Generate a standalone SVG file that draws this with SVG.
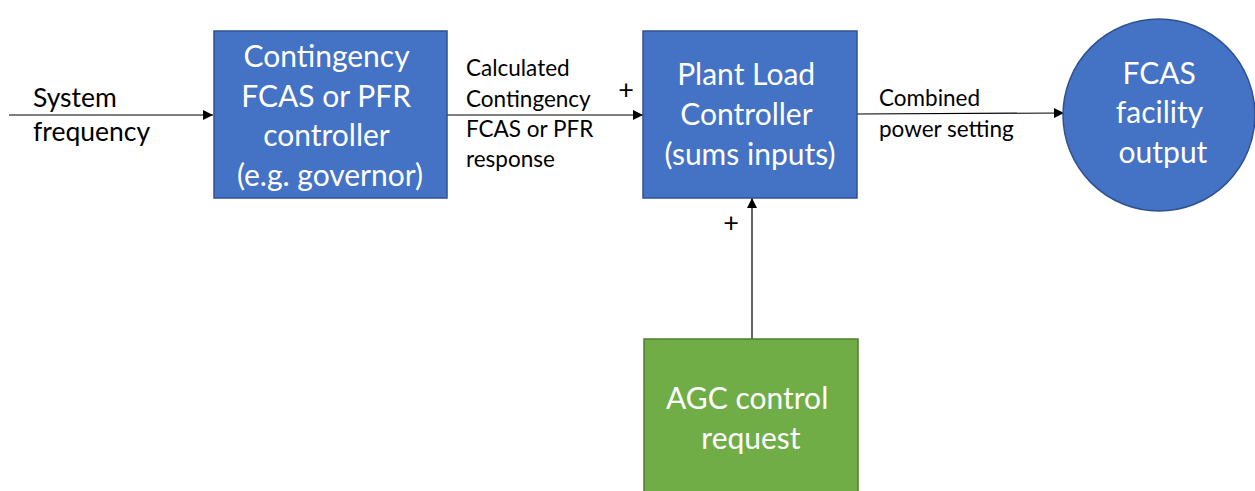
<svg xmlns="http://www.w3.org/2000/svg" width="1255" height="491" viewBox="0 0 1255 491">
  <style>
    .blue { fill: #4472C4; stroke: #2F528F; stroke-width: 1.5; }
    .green { fill: #70AD47; stroke: #507E32; stroke-width: 1.5; }
    .nodeText { font-family: "Lato", "Open Sans", "Liberation Sans", sans-serif; font-size: 30px; fill: #FFFFFF; text-anchor: middle; }
    .label { font-family: "Lato", "Open Sans", "Liberation Sans", sans-serif; fill: #000000; }
    .wire { stroke: #000000; stroke-width: 1.2; fill: none; marker-end: url(#arrow); }
  </style>
  <defs>
    <marker id="arrow" viewBox="0 0 10 10" refX="10" refY="5" markerWidth="10" markerHeight="10" markerUnits="userSpaceOnUse" orient="auto">
      <path d="M0,0 L10,5 L0,10 z" fill="#000000"/>
    </marker>
  </defs>

  <g id="connectors">
    <line class="wire" x1="9" y1="115" x2="213" y2="115"/>
    <line class="wire" x1="447" y1="115" x2="643" y2="115"/>
    <line class="wire" x1="857" y1="114" x2="1064" y2="113"/>
    <line class="wire" x1="752" y1="339" x2="752" y2="198"/>
  </g>

  <g id="node-contingency">
    <rect class="blue" x="214" y="31" width="233" height="167"/>
    <text class="nodeText">
      <tspan x="330" y="67">Contingency</tspan>
      <tspan x="330" y="107">FCAS or PFR</tspan>
      <tspan x="330" y="146">controller</tspan>
      <tspan x="330" y="186">(e.g. governor)</tspan>
    </text>
  </g>

  <g id="node-plc">
    <rect class="blue" x="643" y="31" width="214" height="167"/>
    <text class="nodeText">
      <tspan x="750" y="85">Plant Load</tspan>
      <tspan x="750" y="125">Controller</tspan>
      <tspan x="750" y="165">(sums inputs)</tspan>
    </text>
  </g>

  <g id="node-output">
    <circle class="blue" cx="1159" cy="115" r="96"/>
    <text class="nodeText">
      <tspan x="1163" y="84">FCAS</tspan>
      <tspan x="1163" y="123">facility</tspan>
      <tspan x="1163" y="163">output</tspan>
    </text>
  </g>

  <g id="node-agc">
    <rect class="green" x="644" y="339" width="214" height="160"/>
    <text class="nodeText">
      <tspan x="751" y="409">AGC control</tspan>
      <tspan x="751" y="449">request</tspan>
    </text>
  </g>

  <g id="labels">
    <text class="label" font-size="26.5">
      <tspan x="33" y="107">System</tspan>
      <tspan x="33" y="141">frequency</tspan>
    </text>
    <text class="label" font-size="22.5">
      <tspan x="466" y="76">Calculated</tspan>
      <tspan x="466" y="107">Contingency</tspan>
      <tspan x="466" y="137">FCAS or PFR</tspan>
      <tspan x="466" y="167">response</tspan>
    </text>
    <text class="label" font-size="27" x="626" y="99" text-anchor="middle">+</text>
    <text class="label" font-size="27" x="731" y="232" text-anchor="middle">+</text>
    <text class="label" font-size="22.5">
      <tspan x="879" y="106">Combined</tspan>
      <tspan x="879" y="137">power setting</tspan>
    </text>
  </g>
</svg>
